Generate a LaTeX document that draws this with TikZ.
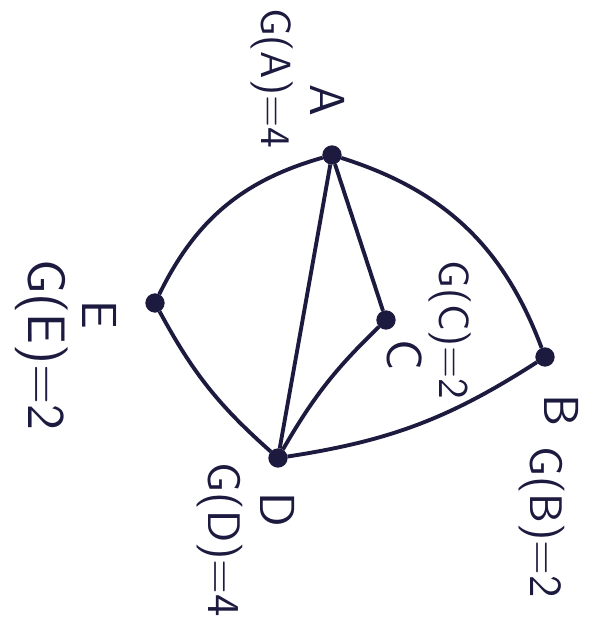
\documentclass[tikz,border=0pt]{standalone}
\usepackage{xcolor}
\usepackage{tikz}
\definecolor{ink}{HTML}{1C1A3E}
\tikzset{vert/.style={circle,fill=ink,draw=ink,inner sep=1.8pt},
  edge/.style={ink,line width=1.1pt},
  lbl/.style={ink,rotate=-90,font=\sffamily\fontsize{14}{16}\selectfont},
  glbl/.style={ink,rotate=-90,font=\sffamily\fontsize{12}{14}\selectfont}}

\begin{document}
\begin{tikzpicture}
\useasboundingbox (0,0) rectangle (5.95,6.18);
\node[vert] (A) at (3.32,4.63) {}; \node[vert] (B) at (5.45,2.61) {}; \node[vert] (C) at (3.86,2.98) {};
\node[vert] (D) at (2.78,1.60) {}; \node[vert] (E) at (1.55,3.15) {};
\draw[edge] (A) to[bend right=24] (E);
\draw[edge] (E) to[bend right=10] (D);
\draw[edge] (A) to[bend left=26] (B);
\draw[edge] (B) to[bend left=12] (D);
\draw[edge] (A) -- (D);
\draw[edge] (A) -- (C);
\draw[edge] (C) to[bend right=8] (D);
\node[lbl] (lA) at (3.28,5.18) {A}; \node[glbl] (gA) at (2.72,5.40) {G(A)=4};
\node[lbl] (lC) at (4.05,2.63) {C}; \node[glbl] (gC) at (4.50,2.88) {G(C)=2};
\node[lbl] (lB) at (5.62,2.08) {B}; \node[glbl,font=\sffamily\fontsize{13}{15}\selectfont] (gB) at (5.42,0.96) {G(B)=2};
\node[lbl] (lD) at (2.78,1.08) {D}; \node[glbl,font=\sffamily\fontsize{13}{15}\selectfont] (gD) at (2.20,0.78) {G(D)=4};
\node[lbl] (lE) at (1.00,3.03) {E}; \node[glbl,font=\sffamily\fontsize{15}{17}\selectfont] (gE) at (0.42,2.73) {G(E)=2};
\end{tikzpicture}
\end{document}
